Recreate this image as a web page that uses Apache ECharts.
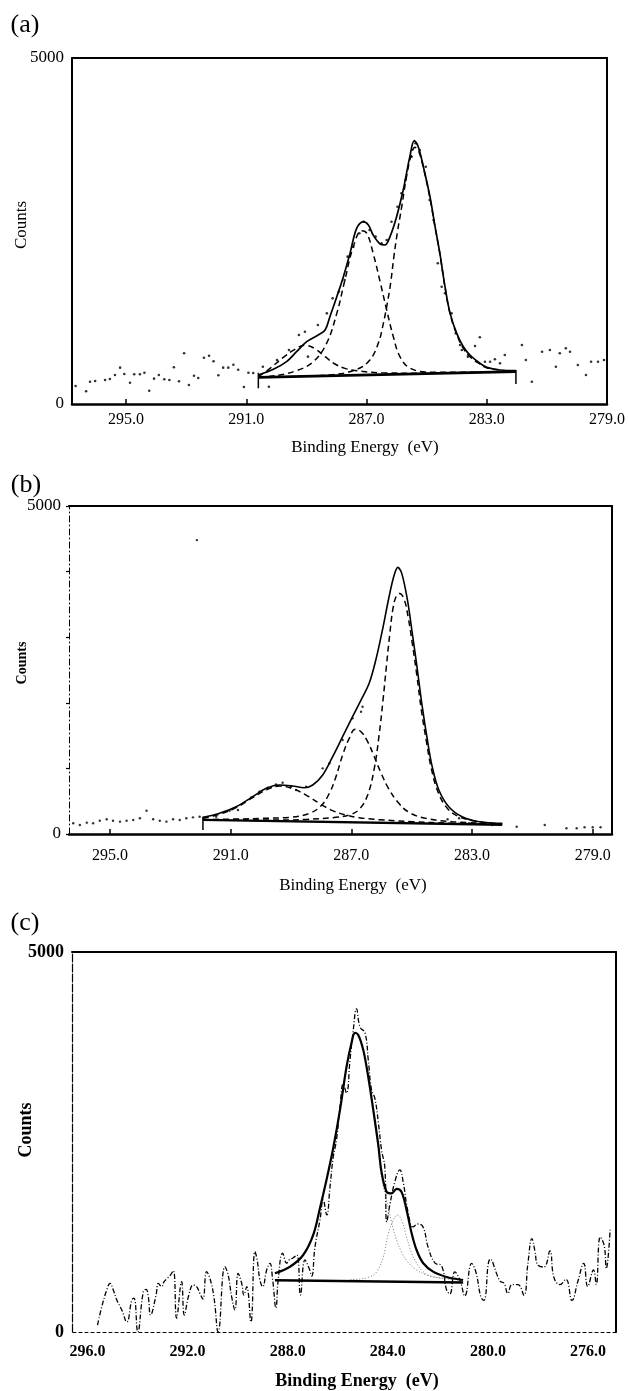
<!DOCTYPE html>
<html><head><meta charset="utf-8">
<script src="https://cdn.jsdelivr.net/npm/echarts@6/dist/echarts.min.js"></script>
<style>html,body{margin:0;padding:0;background:#fff}#c{width:628px;height:1391px}</style>
</head><body><div id="c"></div>
<script>
// ---------- Panel (a) ----------
const aTicks = [279, 283, 287, 291, 295];
const aRaw = [[296.68,260],[296.33,184],[296.20,322],[296.03,332],[295.70,347],[295.54,361],[295.37,419],[295.20,525],[295.06,434],[294.87,308],[294.73,429],[294.54,429],[294.39,452],[294.23,192],[294.07,366],[293.91,419],[293.73,357],[293.56,347],[293.41,530],[293.24,328],[293.07,733],[292.91,275],[292.74,409],[292.60,376],[292.41,669],[292.24,698],[292.09,617],[291.93,415],[291.77,525],[291.60,525],[291.43,568],[291.27,496],[291.08,246],[290.93,452],[290.77,448],
[290.45,539],[290.25,250],[289.98,636],[289.58,780],[289.25,997],[289.05,1045],[288.95,684],[288.62,1142],[288.32,1310],[288.13,1527],[287.92,1623],[287.73,1792],[287.63,2129],[287.44,2273],[287.24,2467],[287.10,2634],[286.90,2514],[286.70,2418],[286.50,2322],[286.33,2370],[286.17,2634],[285.97,2851],[285.84,3045],[285.70,3237],[285.50,3574],[285.37,3767],[285.23,3670],[285.03,3429],[284.90,2948],[284.77,2659],[284.63,2033],[284.50,1695],[284.39,1600],[284.17,1310],[284.03,1021],[283.83,780],[283.63,684],
[283.89,853],[283.39,838],[283.23,964],[283.06,611],[282.89,611],[282.73,646],[282.56,588],[282.40,708],[281.83,853],[281.70,636],[281.50,322],[281.16,756],[280.90,780],[280.70,539],[280.57,733],[280.37,805],[280.23,756],[279.97,564],[279.70,419],[279.53,611],[279.30,611],[279.10,636]];
const aEnvelope = [[290.60,419],[290.10,501],[289.66,612],[289.33,756],[288.99,901],[288.61,997],[288.38,1069],[288.22,1262],[287.99,1551],[287.77,1840],[287.55,2177],[287.33,2538],[287.11,2635],[286.94,2587],[286.78,2442],[286.55,2312],[286.39,2298],[286.22,2418],[286.00,2707],[285.78,3092],[285.56,3574],[285.41,3805],[285.28,3718],[285.11,3429],[284.89,2996],[284.72,2562],[284.56,2177],[284.39,1695],[284.22,1310],[284.00,1021],[283.78,828],[283.56,708],[283.23,588],[283.00,530],[282.56,491],[282.03,481]];
const aPeakA = [[290.60,388],[288.22,420],[287.33,500],[286.89,636],[286.61,877],[286.44,1166],[286.31,1455],[286.20,1744],[286.09,2129],[285.98,2466],[285.83,2851],[285.67,3285],[285.50,3622],[285.39,3709],[285.26,3646],[285.09,3381],[284.89,2972],[284.72,2553],[284.56,2168],[284.39,1686],[284.22,1301],[284.00,1007],[283.78,804],[283.56,684],[283.23,578],[283.00,525],[282.56,490],[282.03,472]];
const aPeakB = [[290.60,392],[290.21,400],[289.33,482],[288.77,612],[288.33,877],[287.99,1310],[287.72,1792],[287.44,2273],[287.16,2505],[286.99,2466],[286.78,2177],[286.55,1768],[286.33,1358],[286.11,973],[285.89,684],[285.56,520],[284.89,460],[283.78,460],[282.03,470]];
const aPeakC = [[290.60,395],[290.21,515],[289.77,674],[289.38,790],[289.05,848],[288.72,800],[288.38,684],[288.05,578],[287.72,515],[287.33,482],[286.50,450],[285.00,445],[283.50,455],[282.03,468]];
const aBaseline = [[290.60,385],[282.03,468]];
const aMarkL = [[290.60,452],[290.60,227]];
const aMarkR = [[282.03,491],[282.03,289]];

// ---------- Panel (b) ----------
const bTicks = [279, 283, 287, 291, 295];
const bRaw = [[296.22,163],[296.00,137],[295.77,173],[295.56,163],[295.34,203],[295.11,224],[294.90,203],[294.67,188],[294.45,203],[294.23,213],[294.01,239],[293.79,355],[293.57,224],[293.35,203],[293.13,188],[292.91,224],[292.69,213],[292.47,239],[292.25,254],[292.03,264],[292.12,4480],
[291.48,264],[291.04,355],[290.76,366],[290.32,559],[290.05,645],[289.77,706],[289.50,757],[289.28,782],[289.00,721],[288.83,671],[288.50,721],[287.95,1001],[287.73,1077],[287.29,1433],[286.96,1763],[286.68,1864],[286.63,1940],
[283.81,224],[283.43,239],[283.10,163],[282.33,137],[281.52,111],[280.59,137],[279.87,87],[279.53,87],[279.27,102],[279.00,102],[278.74,102]];
const bEnvelope = [[291.92,254],[291.37,315],[290.82,416],[290.27,569],[289.82,696],[289.38,747],[288.95,732],[288.56,706],[288.28,747],[287.95,899],[287.62,1178],[287.29,1483],[286.96,1788],[286.68,2042],[286.41,2297],[286.19,2652],[285.97,3109],[285.75,3617],[285.58,3947],[285.46,4064],[285.33,3973],[285.14,3566],[284.98,3059],[284.81,2499],[284.65,1940],[284.48,1433],[284.32,1026],[284.10,671],[283.77,416],[283.33,264],[282.77,188],[282.00,163]];
const bPeak1 = [[291.92,218],[289.50,212],[288.50,222],[287.51,254],[287.07,290],[286.74,376],[286.46,594],[286.24,1001],[286.08,1509],[285.95,2042],[285.84,2550],[285.73,3033],[285.62,3440],[285.51,3627],[285.40,3668],[285.25,3577],[285.11,3287],[284.98,2906],[284.83,2423],[284.68,1890],[284.51,1407],[284.35,1001],[284.13,645],[283.82,392],[283.43,264],[282.77,188],[282.00,152]];
const bPeak2 = [[291.92,220],[290.80,228],[289.94,239],[289.05,254],[288.39,315],[288.01,427],[287.73,620],[287.51,874],[287.29,1204],[287.07,1458],[286.87,1595],[286.68,1559],[286.46,1407],[286.24,1178],[286.02,934],[285.77,696],[285.47,492],[285.09,330],[284.54,239],[283.66,188],[282.00,152]];
const bPeak3 = [[291.92,239],[291.37,300],[290.82,401],[290.27,554],[289.82,671],[289.38,732],[288.95,691],[288.50,594],[288.06,467],[287.62,356],[287.18,290],[286.74,249],[286.08,218],[284.98,188],[283.66,163],[282.00,147]];
const bBaseline = [[291.92,215],[282.00,140]];
const bMarkL = [[291.92,264],[291.92,61]];

// ---------- Panel (c) ----------
const cTicks = [276, 280, 284, 288, 292, 296];
const cRaw = [[295.60,92],[295.43,333],[295.23,553],[295.10,641],[294.97,553],[294.83,421],[294.63,290],[294.43,132],[294.23,421],[294.14,447],[293.99,0],[293.77,530],[293.66,562],[293.57,461],[293.48,224],[293.26,487],[293.17,641],[293.04,596],[292.94,662],[292.81,707],[292.71,737],[292.57,807],[292.44,184],[292.24,662],[292.13,224],[291.95,487],[291.77,619],[291.64,596],[291.51,509],[291.39,434],[291.24,794],[291.11,707],[290.95,465],[290.78,0],[290.51,859],[290.38,750],[290.24,465],[290.11,290],[289.98,772],[289.84,641],[289.75,487],[289.64,596],[289.47,132],[289.31,1057],[289.22,948],[289.11,684],[289.00,596],[288.84,816],[288.71,904],[288.60,684],[288.47,316],[288.38,684],[288.20,1036],[288.04,904],[287.95,948],[287.79,974],[287.63,1013],[287.49,487],[287.31,948],[287.15,842],[287.04,737],[286.91,1119],[286.71,1474],[286.58,1737],[286.44,1540],[286.31,1908],[286.18,2303],[286.05,2527],[285.91,2961],[285.78,3264],[285.65,3145],[285.51,3580],[285.38,3974],[285.25,4251],[285.11,4014],[284.91,3935],[284.78,3580],[284.65,3185],[284.52,3079],[284.38,2764],[284.25,2395],[284.12,2171],[284.04,1448],[283.92,1671],[283.72,1974],[283.52,2132],[283.38,1961],[283.19,1579],[282.99,1382],[282.79,1421],[282.59,1382],[282.39,1119],[282.12,908],[281.85,869],[281.65,553],[281.52,500],[281.32,790],[281.12,684],[280.92,474],[280.65,904],[280.48,790],[280.28,461],[280.16,415],[279.90,960],[279.52,671],[279.36,645],[279.20,508],[279.04,624],[278.80,624],[278.56,484],[278.40,903],[278.24,1228],[278.12,1066],[278.00,879],[277.76,855],[277.52,1066],[277.36,717],[277.12,624],[276.88,694],[276.64,415],[276.40,671],[276.17,903],[276.01,600],[275.78,816],[275.67,624],[275.51,1250],[275.35,1134],[275.27,833],[275.11,1369]];
const cFit = [[288.51,772],[287.91,859],[287.38,1013],[286.98,1277],[286.71,1632],[286.45,2000],[286.18,2421],[285.91,2922],[285.65,3487],[285.45,3803],[285.31,3935],[285.18,3909],[284.98,3711],[284.78,3356],[284.58,2922],[284.38,2461],[284.25,2106],[284.05,1846],[283.85,1823],[283.65,1882],[283.45,1842],[283.25,1606],[283.05,1303],[282.85,1079],[282.59,908],[282.19,794],[281.65,724],[281.12,691],[280.99,684]];
const cPeakMain = [[288.51,772],[287.91,859],[287.38,1013],[286.98,1277],[286.71,1632],[286.45,2000],[286.18,2421],[285.91,2922],[285.65,3487],[285.45,3803],[285.31,3935],[285.18,3909],[284.98,3711],[284.78,3340],[284.58,2890],[284.38,2400],[284.25,2030],[284.05,1737],[283.85,1448],[283.65,1211],[283.45,1053],[283.20,921],[282.85,816],[282.45,750],[281.92,711],[280.99,684]];
const cPeakSmall = [[285.50,690],[285.11,697],[284.71,728],[284.45,790],[284.18,987],[283.98,1290],[283.78,1474],[283.62,1540],[283.45,1474],[283.25,1250],[283.05,1040],[282.85,908],[282.59,794],[282.19,728],[281.52,697],[280.99,678]];
const cBaseline = [[288.51,680],[280.99,652]];

const yLabels = [0, 5000];
const yTicksB = [0, 1000, 2000, 3000, 4000, 5000];

// ---------- build ----------
const FONT = '"Liberation Serif","Times New Roman",serif';
const K = '#000';

function xBottom(g, min, max, ticks, o) {
  return { gridIndex: g, type: 'value', min, max, inverse: true, position: 'bottom',
    axisLine: { show: true, onZero: false, lineStyle: { color: K, width: o.lw, type: o.lt || 'solid' } },
    axisTick: { show: o.tick, inside: true, length: 5, customValues: ticks, lineStyle: { color: K, width: 1.5 } },
    axisLabel: { customValues: ticks, formatter: v => Number(v).toFixed(1), color: K, fontFamily: FONT,
      fontSize: o.fs, fontWeight: o.fw || 'normal', margin: o.margin },
    splitLine: { show: false } };
}
function xTop(g, min, max, o) {
  return { gridIndex: g, type: 'value', min, max, inverse: true, position: 'top',
    axisLine: { show: true, onZero: false, lineStyle: { color: K, width: o.lw } },
    axisTick: { show: false }, axisLabel: { show: false }, splitLine: { show: false } };
}
function yLeft(g, o) {
  return { gridIndex: g, type: 'value', min: 0, max: 5000, position: 'left',
    axisLine: { show: true, onZero: false, lineStyle: { color: K, width: o.lw, type: o.lt || 'solid' } },
    axisTick: { show: !!o.ticks, customValues: o.ticks, length: 3, lineStyle: { color: K, width: 1.2 } },
    axisLabel: { customValues: yLabels, formatter: v => String(Math.round(v)), color: K, fontFamily: FONT,
      fontSize: o.fs, fontWeight: o.fw || 'normal', margin: o.margin },
    splitLine: { show: false } };
}
function yRight(g, o) {
  return { gridIndex: g, type: 'value', min: 0, max: 5000, position: 'right',
    axisLine: { show: true, onZero: false, lineStyle: { color: K, width: o.lw } },
    axisTick: { show: false }, axisLabel: { show: false }, splitLine: { show: false } };
}
function line(i, data, ls, smooth, z) {
  return { type: 'line', xAxisIndex: i, yAxisIndex: i, data, showSymbol: false, symbol: 'none',
    smooth: smooth, lineStyle: ls, silent: true, z: z || 2, animation: false };
}
function dots(i, data, size) {
  return { type: 'scatter', xAxisIndex: i, yAxisIndex: i, data, symbolSize: size, symbol: 'circle',
    itemStyle: { color: K }, silent: true, z: 1, animation: false };
}

const dashed = { color: K, width: 1.5, type: [6, 4] };

const option = {
  backgroundColor: '#fff',
  animation: false,
  grid: [
    { left: 72, top: 58, width: 535, height: 346 },
    { left: 69, top: 506, width: 543, height: 328 },
    { left: 72, top: 952, width: 544, height: 380 }
  ],
  xAxis: [
    xBottom(0, 279, 296.8, aTicks, { lw: 2.5, tick: true, fs: 16, margin: 8 }),
    xBottom(1, 278.36, 296.36, bTicks, { lw: 2.5, tick: true, fs: 16, margin: 14 }),
    xBottom(2, 274.88, 296.62, cTicks, { lw: 1, lt: [3, 3], tick: false, fs: 16, fw: 'bold', margin: 12 }),
    xTop(0, 279, 296.8, { lw: 2 }),
    xTop(1, 278.36, 296.36, { lw: 2 }),
    xTop(2, 274.88, 296.62, { lw: 2 })
  ],
  yAxis: [
    yLeft(0, { lw: 2, fs: 17, margin: 8 }),
    yLeft(1, { lw: 1, lt: [6, 3, 1, 3], fs: 17, margin: 8, ticks: yTicksB }),
    yLeft(2, { lw: 1.2, lt: [8, 2], fs: 18, fw: 'bold', margin: 8 }),
    yRight(0, { lw: 2 }),
    yRight(1, { lw: 2 }),
    yRight(2, { lw: 2 })
  ],
  series: [
    // (a)
    dots(0, aRaw, 2.6),
    line(0, aBaseline, { color: K, width: 2.6 }, false, 3),
    line(0, aMarkL, { color: K, width: 1.5 }, false, 3),
    line(0, aMarkR, { color: K, width: 1.5 }, false, 3),
    line(0, aPeakC, dashed, 0.4),
    line(0, aPeakB, dashed, 0.4),
    line(0, aPeakA, dashed, 0.4),
    line(0, aEnvelope, { color: K, width: 1.7 }, 0.35, 4),
    // (b)
    dots(1, bRaw, 2.4),
    line(1, bBaseline, { color: K, width: 2.4 }, false, 3),
    line(1, bMarkL, { color: K, width: 1.5 }, false, 3),
    line(1, bPeak3, dashed, 0.4),
    line(1, bPeak2, dashed, 0.4),
    line(1, bPeak1, dashed, 0.4),
    line(1, bEnvelope, { color: K, width: 1.6 }, 0.35, 4),
    // (c)
    line(2, cRaw, { color: K, width: 1.3, type: [5, 2, 1, 2] }, 0.45, 2),
    line(2, cPeakMain, { color: '#777', width: 1, type: [1, 2] }, 0.4, 2),
    line(2, cPeakSmall, { color: '#777', width: 1, type: [1, 2] }, 0.4, 2),
    line(2, cBaseline, { color: K, width: 2.6 }, false, 3),
    line(2, cFit, { color: K, width: 2.2 }, 0.35, 4)
  ],
  graphic: []
};

const labels = [
  { t: '(a)', x: 25, y: 25, fs: 26 },
  { t: '(b)', x: 26, y: 485, fs: 26 },
  { t: '(c)', x: 25, y: 923, fs: 26 },
  { t: 'Counts', x: 22, y: 225, fs: 17, rot: true },
  { t: 'Counts', x: 22, y: 663, fs: 14, rot: true, fw: 'bold' },
  { t: 'Counts', x: 26, y: 1130, fs: 18, rot: true, fw: 'bold' },
  { t: 'Binding Energy  (eV)', x: 365, y: 448, fs: 17 },
  { t: 'Binding Energy  (eV)', x: 353, y: 886, fs: 17 },
  { t: 'Binding Energy  (eV)', x: 357, y: 1381, fs: 18, fw: 'bold' }
];
option.graphic = labels.map(l => ({
  type: 'text', x: l.x, y: l.y, rotation: l.rot ? Math.PI / 2 : 0, silent: true,
  style: { text: l.t, fill: K, font: `${l.fw || 'normal'} ${l.fs}px ${FONT}`,
    textAlign: 'center', textVerticalAlign: 'middle', align: 'center', verticalAlign: 'middle' }
}));

const chart = echarts.init(document.getElementById('c'), null, { renderer: 'canvas' });
chart.setOption(option);
</script></body></html>
